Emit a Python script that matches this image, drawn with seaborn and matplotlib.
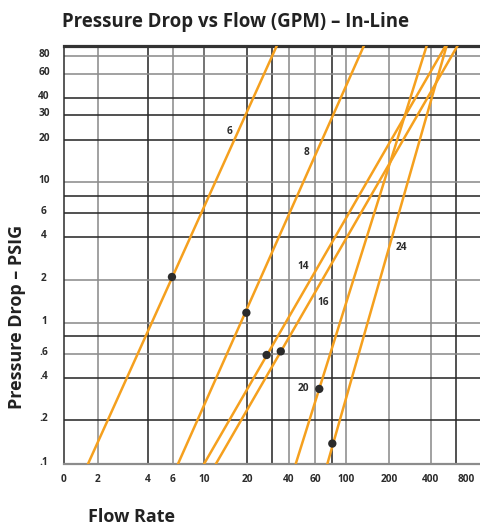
import numpy as np
import pandas as pd
import matplotlib
matplotlib.use('Agg')
import matplotlib.pyplot as plt
import matplotlib.transforms as mtransforms
import seaborn as sns

# valve sizes, each drawn as a straight line from the bottom to the top of the chart
sizes = ['6', '8', '14', '16', '20', '24']
flow_low = [1.63, 6.51, 10.0, 12.1, 44.4, 73.9]
psig_low = [0.1, 0.1, 0.1, 0.1, 0.1, 0.1]
flow_high = [32.6, 133.7, 508, 630, 373, 516]
psig_high = [100, 100, 100, 100, 100, 100]

# rated points (black dots)
dot_flow = [5.9, 19.8, 27.5, 34.8, 64.5, 80.4]
dot_psig = [2.1, 1.18, 0.59, 0.626, 0.334, 0.138]

# where the size labels sit
label_flow = [15.2, 52.7, 50, 69, 50, 245]
label_psig = [22.8, 16.4, 2.48, 1.40, 0.334, 3.39]

x_ticks = [1, 2, 4, 6, 10, 20, 40, 60, 100, 200, 400, 800]
x_ticklabels = ['0', '2', '4', '6', '10', '20', '40', '60', '100', '200', '400', '800']
y_ticks = [0.1, 0.2, 0.4, 0.6, 1, 2, 4, 6, 10, 20, 30, 40, 60, 80]
y_ticklabels = ['.1', '.2', '.4', '.6', '1', '2', '4', '6', '10', '20', '30', '40', '60', '80']

# the printed chart is a hand-spaced log grid, so the axes use a piecewise log scale
x_knots = [1, 2, 4, 6, 10, 20, 30, 40, 60, 80, 100, 200, 400, 600, 800, 1000]
x_pix = [64, 98, 148, 173, 204, 247, 272, 289, 315, 332, 346, 389, 431, 456, 466, 481]
y_knots = [0.1, 0.2, 0.4, 0.6, 0.8, 1, 2, 4, 6, 8, 10, 20, 30, 40, 60, 80, 100]
y_pix = [64, 108, 150, 174, 192, 205, 248, 291, 315, 332, 346, 388, 413, 430, 454, 472.3, 482.5]


def piecewise_log(knots, pix):
    lk = np.log10(knots)
    pix = np.asarray(pix, dtype=float)

    def fwd(v):
        v = np.clip(np.asarray(v, dtype=float), 1e-6, None)
        return np.interp(np.log10(v), lk, pix)

    def inv(p):
        return 10 ** np.interp(np.asarray(p, dtype=float), pix, lk)
    return fwd, inv


lines = pd.DataFrame({
    'size': sizes + sizes,
    'flow': flow_low + flow_high,
    'psig': psig_low + psig_high,
})
dots = pd.DataFrame({'flow': dot_flow, 'psig': dot_psig})

sns.set_style('white')
plt.rcParams['font.family'] = ['Open Sans', 'DejaVu Sans']

orange = '#F5A01E'
dark = '#2b2b2b'
grey = '#8c8c8c'

fig = plt.figure(figsize=(4.81, 5.28), dpi=100)
ax = fig.add_axes([64 / 481, 64 / 528, 1 - 64 / 481, (482.5 - 64) / 528])
ax.set_xscale('function', functions=piecewise_log(x_knots, x_pix))
ax.set_yscale('function', functions=piecewise_log(y_knots, y_pix))

# grid
xgrid = [2, 4, 6, 10, 20, 30, 40, 60, 80, 100, 200, 400, 600]
xgrid_c = [grey, dark, grey, '#555555', dark, dark, grey, grey, dark, grey, grey, grey, dark]
ygrid = [0.2, 0.4, 0.6, 0.8, 1, 2, 4, 6, 8, 10, 20, 30, 40, 60, 80]
ygrid_c = [dark, dark, grey, dark, grey, grey, dark, dark, dark, grey, dark, dark, dark, grey, grey]
for v, c in zip(xgrid, xgrid_c):
    ax.axvline(v, color=c, lw=1.15, zorder=1)
for v, c in zip(ygrid, ygrid_c):
    ax.axhline(v, color=c, lw=1.15, zorder=1)

sns.lineplot(data=lines, x='flow', y='psig', units='size', estimator=None,
             sort=False, color=orange, lw=1.8, legend=False, ax=ax, zorder=3)
sns.scatterplot(data=dots, x='flow', y='psig', color=dark, s=36,
                edgecolor='none', ax=ax, zorder=4)

for s, fx, fy in zip(sizes, label_flow, label_psig):
    ax.text(fx, fy, s, fontsize=7.3, fontweight='bold', color=dark,
            ha='center', va='center', zorder=5)

ax.set_xlim(1, 1000)
ax.set_ylim(0.1, 100)
ax.set_xticks(x_ticks)
ax.set_xticklabels(x_ticklabels)
ax.set_yticks(y_ticks)
ax.set_yticklabels(y_ticklabels)
ax.xaxis.set_minor_locator(matplotlib.ticker.NullLocator())
ax.yaxis.set_minor_locator(matplotlib.ticker.NullLocator())
ax.set_xlabel('')
ax.set_ylabel('')
ax.tick_params(axis='x', length=0, pad=7, labelsize=7.3, labelcolor=dark)
ax.tick_params(axis='y', length=0, pad=14.4, labelsize=7.3, labelcolor=dark)
up = mtransforms.ScaledTranslation(0, 0.03, fig.dpi_scale_trans)
for lab in ax.get_yticklabels():
    lab.set_fontweight('bold')
    lab.set_ha('center')
    lab.set_transform(lab.get_transform() + up)
for lab in ax.get_xticklabels():
    lab.set_fontweight('bold')

ax.spines['right'].set_visible(False)
ax.spines['top'].set_color('#333333')
ax.spines['top'].set_linewidth(2.3)
ax.spines['left'].set_color(dark)
ax.spines['left'].set_linewidth(1.1)
ax.spines['bottom'].set_color(grey)
ax.spines['bottom'].set_linewidth(1.6)

fig.text(236 / 481, 1 - 22 / 528, 'Pressure Drop vs Flow (GPM) – In-Line',
         ha='center', va='center', fontsize=13.4, fontweight='bold', color='#222222')
fig.text(17 / 481, 1 - 317 / 528, 'Pressure Drop – PSIG', rotation=90,
         ha='center', va='center', fontsize=13, fontweight='bold', color='#222222')
fig.text(131 / 481, 1 - 517 / 528, 'Flow Rate',
         ha='center', va='center', fontsize=13, fontweight='bold', color='#222222')

fig.savefig('out.png', dpi=100)
